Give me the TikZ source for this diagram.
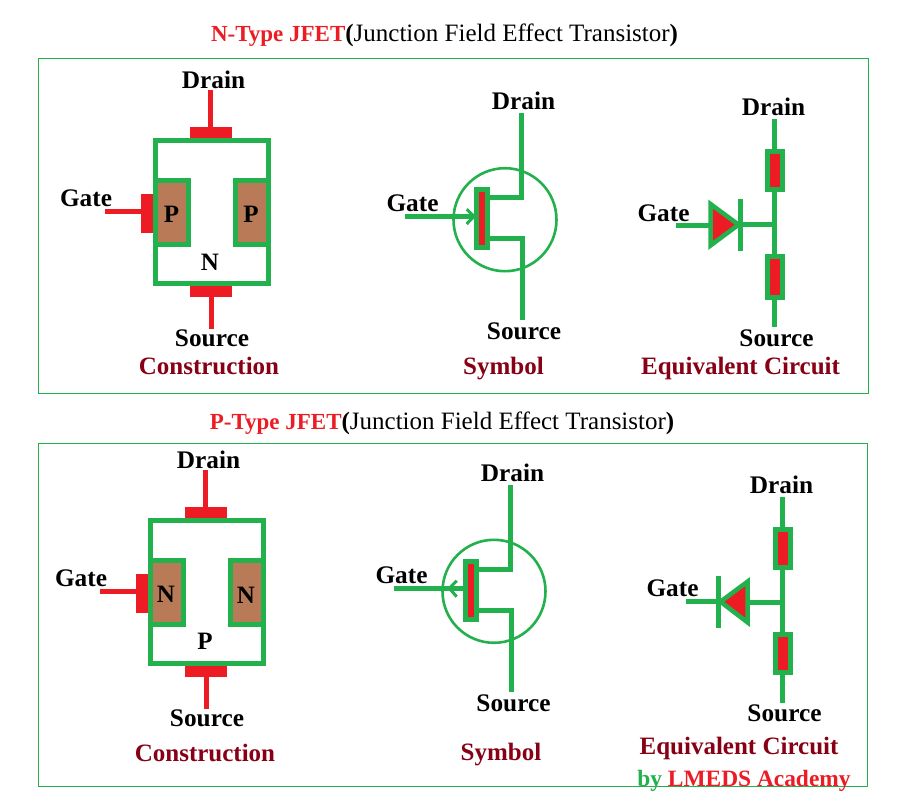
\documentclass[tikz,border=0pt]{standalone}
\usepackage{fontspec}
\setmainfont{Liberation Serif}
\usepackage{tikz}

\definecolor{jgreen}{HTML}{22B14C}
\definecolor{jred}{HTML}{ED1C24}
\definecolor{jbrown}{HTML}{B97A57}
\definecolor{jdark}{HTML}{880015}

\tikzset{
  wire/.style={draw=jgreen,line width=5pt},
  redwire/.style={draw=jred,line width=5pt},
  pad/.style={fill=jred},
  frameline/.style={draw=jgreen,line width=1pt},
  ring/.style={draw=jgreen,line width=2.6pt},
  barb/.style={draw=jgreen,line width=3pt},
  label/.style={font=\fontsize{25.3}{25}\selectfont\bfseries,text=black,inner sep=0pt},
  region/.style={font=\fontsize{25}{25}\selectfont\bfseries,text=black,inner sep=0pt},
  caption/.style={font=\fontsize{25}{25}\selectfont\bfseries,text=jdark,inner sep=0pt},
  heading/.style={font=\fontsize{25}{25}\selectfont,text=black,inner sep=0pt},
  well/.style={fill=jbrown,draw=jgreen,line width=5pt},
  rbox/.style={fill=jred,draw=jgreen,line width=5pt},
  diode/.style={fill=jred,draw=jgreen,line width=4.5pt,line join=miter,miter limit=3},
}
\newcommand{\redpart}[1]{{\fontsize{23}{25}\selectfont\bfseries\textcolor{jred}{#1}}}

\begin{document}
\begin{tikzpicture}[x=1pt,y=-1pt]
\useasboundingbox (0,0) rectangle (902,808);
\fill[white] (0,0) rectangle (902,808);

% frames
\draw[frameline] (38.5,58.5) rectangle (868,393);
\draw[frameline] (38.5,443.5) rectangle (867.5,786);

% titles
\node[heading] (ntitle) at(444.5,35) {\redpart{N-Type JFET}{\bfseries(}Junction Field Effect Transistor{\bfseries)}};
\node[heading] (ptitle) at(442,423) {\redpart{P-Type JFET}{\bfseries(}Junction Field Effect Transistor{\bfseries)}};

% n-type construction
\draw[redwire] (210.5,90) -- (210.5,130);
\fill[pad] (190,127) rectangle (232,140);
\draw[redwire] (105,211.5) -- (145,211.5);
\fill[pad] (141,194) rectangle (155,233);
\draw[redwire] (211.5,290) -- (211.5,329);
\fill[pad] (190,284) rectangle (232,297);
\draw[well] (155.8,180.5) rectangle (188.5,244.2);
\draw[well] (235.8,180.5) rectangle (268.5,244.2);
\draw[wire] (155.8,140.5) rectangle (268.5,283.5);
\node[label] (ndrain1) at(213.5,80) {Drain};
\node[label] (ngate1) at(86,198.5) {Gate};
\node[label] (nsource1) at(212,338.5) {Source};
\node[region] (np1) at(171.5,214) {P};
\node[region] (np2) at(251,214) {P};
\node[region] (nn) at(210,262) {N};
\node[caption] (ncons) at(209,366) {Construction};

% n-type symbol
\draw[ring] (505,219.7) circle (51.5);
\draw[wire] (521.7,112.7) -- (521.7,197) -- (488,197);
\draw[wire] (488,238.3) -- (522.7,238.3) -- (522.7,320);
\draw[wire] (405,216.3) -- (474,216.3);
\draw[barb] (466.7,209.3) -- (474,216.3) -- (466.7,224);
\draw[rbox] (476.5,189.2) rectangle (487.5,247.5);
\node[label] (ndrain2) at(523.5,101) {Drain};
\node[label] (ngate2) at(412.5,203.5) {Gate};
\node[label] (nsource2) at(524,331.5) {Source};
\node[caption] (nsym) at(503.5,369) {Symbol};

% n-type equivalent circuit
\draw[wire] (774.5,119) -- (774.5,327);
\draw[wire] (743,224.7) -- (774.5,224.7);
\draw[wire] (676,225) -- (710,225);
\draw[rbox] (767.5,151.5) rectangle (782.5,189.2);
\draw[rbox] (767.5,256.5) rectangle (782.5,297.2);
\draw[diode] (710.5,204) -- (738.5,224.7) -- (710.5,245.5) -- cycle;
\draw[wire] (740.3,199) -- (740.3,250.7);
\node[label] (ndrain3) at(773.5,107) {Drain};
\node[label] (ngate3) at(663.5,213) {Gate};
\node[label] (nsource3) at(776.5,338.5) {Source};
\node[caption] (nequ) at(740.5,368) {Equivalent Circuit};

% p-type construction
\draw[redwire] (205.5,470) -- (205.5,510);
\fill[pad] (185,507) rectangle (227,520);
\draw[redwire] (100,591.5) -- (140,591.5);
\fill[pad] (136,574) rectangle (150,613);
\draw[redwire] (206.5,670) -- (206.5,709);
\fill[pad] (185,664) rectangle (227,677);
\draw[well] (150.8,560.5) rectangle (183.5,624.2);
\draw[well] (230.8,560.5) rectangle (263.5,624.2);
\draw[wire] (150.8,520.5) rectangle (263.5,663.5);
\node[label] (pdrain1) at(208.5,460) {Drain};
\node[label] (pgate1) at(81,578.5) {Gate};
\node[label] (psource1) at(207,718.5) {Source};
\node[region] (pn1) at(166,594) {N};
\node[region] (pn2) at(246,595) {N};
\node[region] (pp) at(205,641) {P};
\node[caption] (pcons) at(205,753) {Construction};

% p-type symbol
\draw[ring] (494,591.3) circle (51.5);
\draw[wire] (510.7,485) -- (510.7,569.3) -- (477,569.3);
\draw[wire] (477,610.3) -- (511.7,610.3) -- (511.7,691.7);
\draw[wire] (394,588.3) -- (463,588.3);
\draw[barb] (456.7,580.7) -- (449.3,588.3) -- (456.7,596.7);
\draw[rbox] (465.5,561.5) rectangle (476.5,619.5);
\node[label] (pdrain2) at(512.5,473) {Drain};
\node[label] (pgate2) at(401.5,575.5) {Gate};
\node[label] (psource2) at(513.5,703.5) {Source};
\node[caption] (psym) at(501,755) {Symbol};

% p-type equivalent circuit
\draw[wire] (782.3,497.3) -- (782.3,702.7);
\draw[wire] (748,602.3) -- (782.3,602.3);
\draw[wire] (686,601.3) -- (718,601.3);
\draw[rbox] (775.5,529.2) rectangle (790.5,567.2);
\draw[rbox] (775.5,634.5) rectangle (790.5,672.5);
\draw[diode] (747.7,581.5) -- (720.5,601.7) -- (747.7,622.5) -- cycle;
\draw[wire] (718.7,576) -- (718.7,627.7);
\node[label] (pdrain3) at(781.5,485) {Drain};
\node[label] (pgate3) at(672.5,588) {Gate};
\node[label] (psource3) at(784.5,713.5) {Source};
\node[caption] (pequ) at(739,748) {Equivalent Circuit};
\node[caption,font=\fontsize{23.4}{25}\selectfont\bfseries] (brand) at(744,781) {\textcolor{jgreen}{by} \textcolor{jred}{LMEDS Academy}};
\end{tikzpicture}
\end{document}
